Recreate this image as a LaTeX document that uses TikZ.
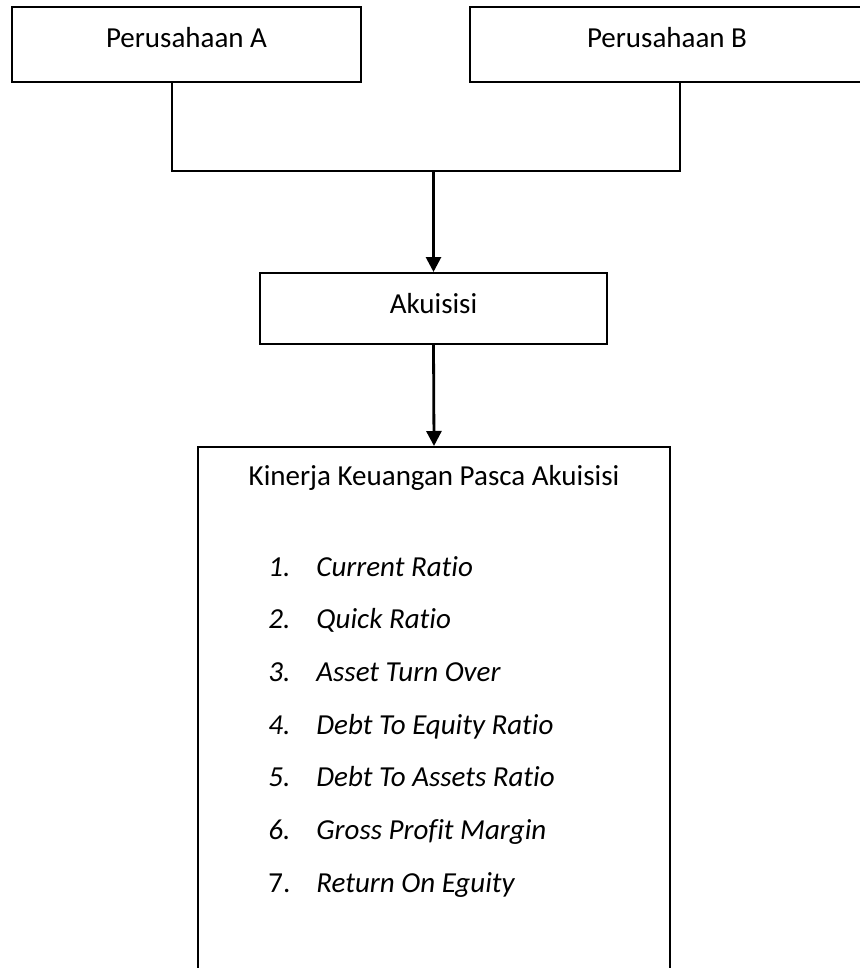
\documentclass[tikz,border=0pt]{standalone}
\usepackage{fontspec}
\setmainfont{Carlito}[Ligatures={NoCommon}]
\usepackage{tikz}
\usetikzlibrary{arrows.meta}
\usetikzlibrary{positioning}

\begin{document}
\begin{tikzpicture}[x=0.5pt,y=-0.5pt,
  box/.style={draw,line width=1pt,rectangle,inner sep=0pt},
  txt/.style={anchor=base,inner sep=0pt,font=\fontsize{14.5}{17}\selectfont},
  item/.style={anchor=base west,inner sep=0pt,font=\fontsize{14.5}{17}\selectfont},
  arr/.style={-{Triangle[width=7.5pt,length=7.5pt]},line width=1.4pt}]

  \useasboundingbox (0,0) rectangle (860,968);

  % boxes
  \node[box,minimum width=174.5pt,minimum height=37.5pt] (A)        at (186.5,44.5) {};
  \node[box,minimum width=197pt,minimum height=37.5pt]   (B)        at (667,44.5)   {};
  \node[box,minimum width=173.5pt,minimum height=35.5pt] (akuisisi) at (433.5,308.5) {};
  \node[box,minimum width=236pt,minimum height=276.5pt]  (kinerja)  at (434,723.5)  {};

  % texts
  \node[txt] (A-txt)        at (186.5,48) {Perusahaan A};
  \node[txt] (B-txt)        at (667,48)   {Perusahaan B};
  \node[txt] (akuisisi-txt) at (433.5,313) {Akuisisi};
  \node[txt] (kinerja-txt)  at (434,485)  {Kinerja Keuangan Pasca Akuisisi};

  \foreach \i/\txt in {1/Current Ratio,2/Quick Ratio,3/Asset Turn Over,
      4/Debt To Equity Ratio,5/Debt To Assets Ratio,6/Gross Profit Margin,
      7/Return On Eguity}
  {
    \node[item] (num\i) at (268,{576+52.7*(\i-1)}) {\ifnum\i<7 \itshape\fi\i.};
    \node[item] (rasio\i) at (316,{576+52.7*(\i-1)}) {\itshape\txt};
  }

  % connectors
  \coordinate (jA) at (172,171);
  \coordinate (jB) at (680,171);
  \coordinate (j)  at (433.5,171);

  \draw[line width=1pt] (jA |- A.south) -- (jA) -- (jB) -- (jB |- B.south);
  \draw[arr] (j) -- (akuisisi.north);
  \draw[arr] (akuisisi.south) -- (kinerja.north);
\end{tikzpicture}
\end{document}
